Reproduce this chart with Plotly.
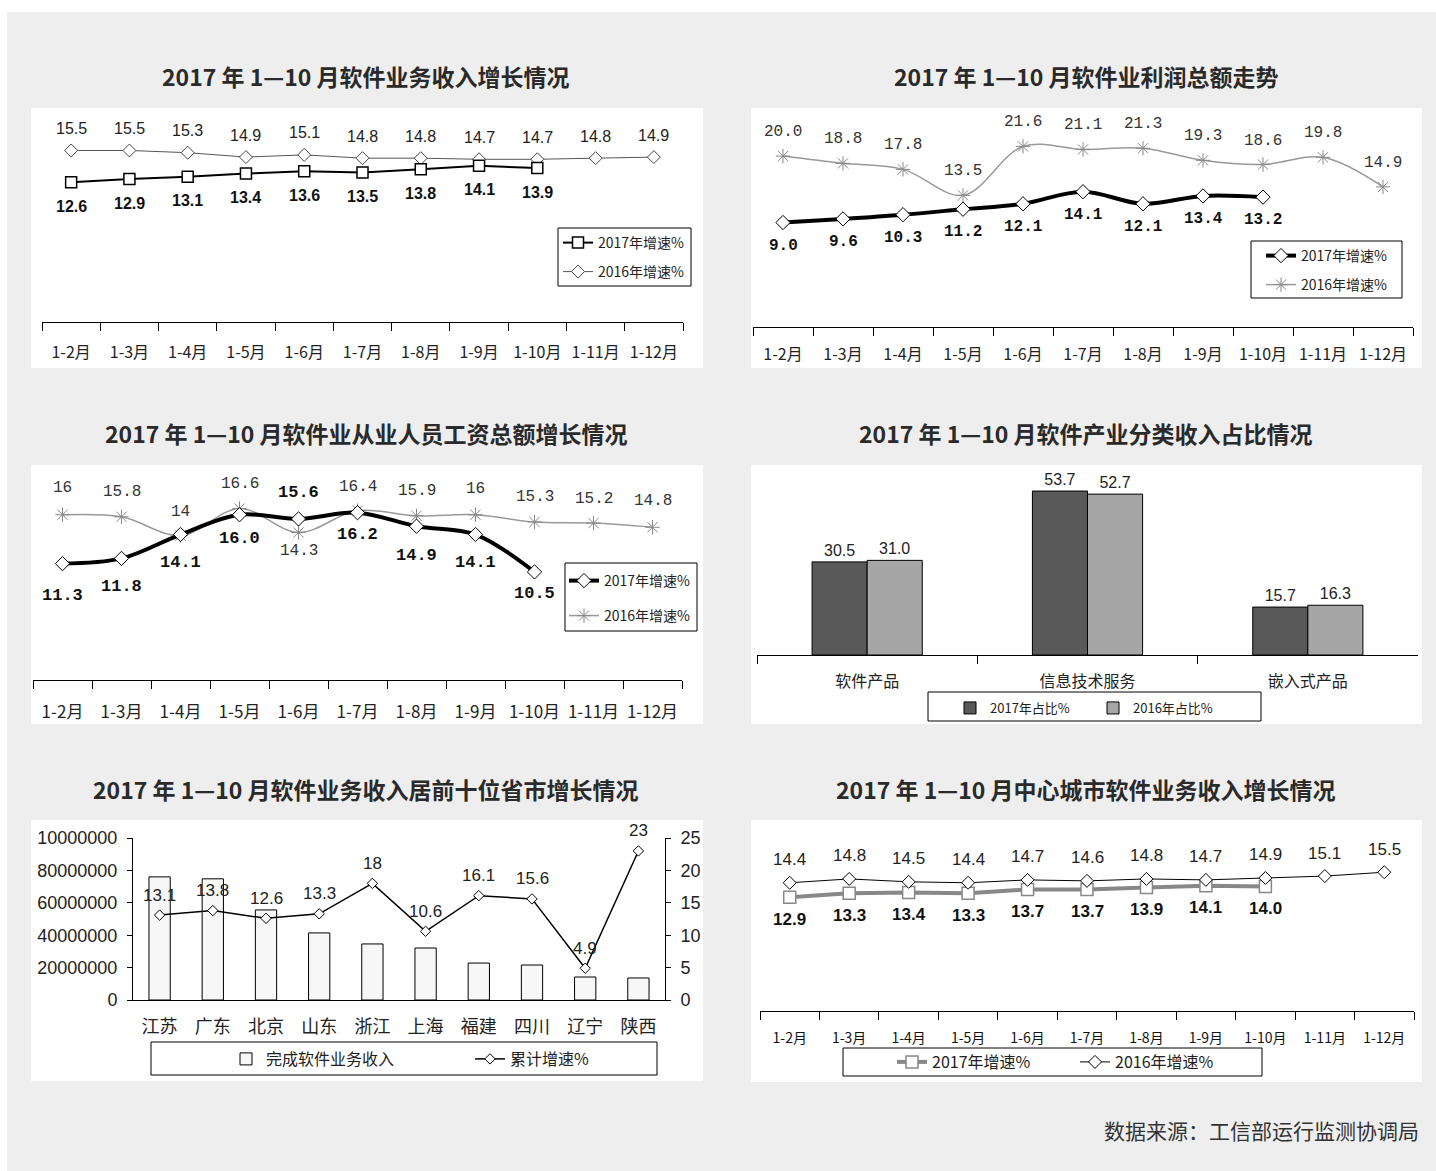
import plotly.graph_objects as go

W, H = 1436, 1171

# ---------------- data ----------------
months = ["1-2月", "1-3月", "1-4月", "1-5月", "1-6月", "1-7月", "1-8月", "1-9月", "1-10月", "1-11月", "1-12月"]

rev_2017 = [12.6, 12.9, 13.1, 13.4, 13.6, 13.5, 13.8, 14.1, 13.9]
rev_2016 = [15.5, 15.5, 15.3, 14.9, 15.1, 14.8, 14.8, 14.7, 14.7, 14.8, 14.9]

profit_2017 = [9.0, 9.6, 10.3, 11.2, 12.1, 14.1, 12.1, 13.4, 13.2]
profit_2016 = [20.0, 18.8, 17.8, 13.5, 21.6, 21.1, 21.3, 19.3, 18.6, 19.8, 14.9]

wage_2017 = [11.3, 11.8, 14.1, 16.0, 15.6, 16.2, 14.9, 14.1, 10.5]
wage_2016 = [16, 15.8, 14, 16.6, 14.3, 16.4, 15.9, 16, 15.3, 15.2, 14.8]

share_cats = ["软件产品", "信息技术服务", "嵌入式产品"]
share_2017 = [30.5, 53.7, 15.7]
share_2016 = [31.0, 52.7, 16.3]

provinces = ["江苏", "广东", "北京", "山东", "浙江", "上海", "福建", "四川", "辽宁", "陕西"]
prov_revenue = [76000000, 74800000, 55600000, 41400000, 34600000, 32100000, 22800000, 21600000, 14200000, 13600000]
prov_growth = [13.1, 13.8, 12.6, 13.3, 18, 10.6, 16.1, 15.6, 4.9, 23]
left_ticks = [0, 20000000, 40000000, 60000000, 80000000, 100000000]
left_ticktext = ["0", "20000000", "40000000", "60000000", "80000000", "10000000"]
right_ticks = [0, 5, 10, 15, 20, 25]

city_2017 = [12.9, 13.3, 13.4, 13.3, 13.7, 13.7, 13.9, 14.1, 14.0]
city_2016 = [14.4, 14.8, 14.5, 14.4, 14.7, 14.6, 14.8, 14.7, 14.9, 15.1, 15.5]

titles = [
    "2017 年 1—10 月软件业务收入增长情况",
    "2017 年 1—10 月软件业利润总额走势",
    "2017 年 1—10 月软件业从业人员工资总额增长情况",
    "2017 年 1—10 月软件产业分类收入占比情况",
    "2017 年 1—10 月软件业务收入居前十位省市增长情况",
    "2017 年 1—10 月中心城市软件业务收入增长情况",
]
source_text = "数据来源：工信部运行监测协调局"

# ---------------- helpers ----------------
def px(x):
    return x / W

def py(y):
    return 1 - y / H

CJK = "Noto Sans CJK SC"
ARIAL = "Liberation Sans, Arial"
MONO = "Liberation Mono"

fig = go.Figure()
shapes = []
annotations = []

# background
shapes.append(dict(type="rect", xref="paper", yref="paper", x0=px(7), x1=px(1436), y0=py(1171), y1=py(12),
                   fillcolor="#eeeeee", line=dict(width=0), layer="below"))
panels = [(31, 703, 108, 368), (751, 1422, 108, 368), (31, 703, 465, 724),
          (751, 1422, 465, 724), (31, 703, 820, 1081), (751, 1422, 820, 1082)]
for (a, b, c, d) in panels:
    shapes.append(dict(type="rect", xref="paper", yref="paper", x0=px(a), x1=px(b), y0=py(d), y1=py(c),
                       fillcolor="white", line=dict(width=0), layer="below"))

# titles
title_pos = [(366, 76), (1086, 76), (366, 433), (1086, 433), (366, 789), (1086, 789)]
for t, (x, y) in zip(titles, title_pos):
    annotations.append(dict(text="<b>" + t + "</b>", x=px(x), y=py(y), xref="paper", yref="paper",
                            showarrow=False, font=dict(family=CJK, size=23, color="#2a2a2a"),
                            xanchor="center", yanchor="middle"))
annotations.append(dict(text=source_text, x=px(1421), y=py(1130), xref="paper", yref="paper",
                        showarrow=False, font=dict(family=CJK, size=21, color="#333333"),
                        xanchor="right", yanchor="middle"))

layout_axes = {}

def cat_xaxis(name, x0, x1, anchor, tickfont, standoff, ticks=True):
    layout_axes[name] = dict(domain=[px(x0), px(x1)], anchor=anchor, type="category",
                             showline=True, linecolor="black", linewidth=1,
                             ticks="outside" if ticks else "", tickson="boundaries", ticklen=8,
                             tickcolor="black", tickwidth=1, showgrid=False, zeroline=False,
                             tickfont=tickfont, ticklabelstandoff=standoff, tickangle=0,
                             automargin=False, fixedrange=True)

def hidden_yaxis(name, y_top, y_bot, rng, anchor):
    layout_axes[name] = dict(domain=[py(y_bot), py(y_top)], range=rng, visible=False,
                             anchor=anchor, automargin=False, fixedrange=True)

def add_labels_fmt(xs, ys, offsets, xref, yref, font, fmt="{:.1f}"):
    for x, y, o in zip(xs, ys, offsets):
        annotations.append(dict(text=fmt.format(y), x=x, y=y, xref=xref, yref=yref, yshift=o,
                                showarrow=False, font=font, xanchor="center", yanchor="middle"))

legends = {}
legend_count = [0]

def new_legend(x, y, size):
    legend_count[0] += 1
    key = "legend" if legend_count[0] == 1 else f"legend{legend_count[0]}"
    legends[key] = dict(x=px(x), y=py(y), xanchor="left", yanchor="middle", bgcolor="rgba(0,0,0,0)",
                        borderwidth=0, font=dict(family=CJK, size=size, color="#222"), itemwidth=30,
                        orientation="v")
    return key

def box(x0, x1, y0, y1):
    shapes.append(dict(type="rect", xref="paper", yref="paper", x0=px(x0), x1=px(x1), y0=py(y1), y1=py(y0),
                       line=dict(color="black", width=1), fillcolor="rgba(0,0,0,0)"))

# ---------------- Panel 1 ----------------
cat_xaxis("xaxis", 42, 683, "y", dict(family=CJK, size=16, color="#222"), 16)
hidden_yaxis("yaxis", 112, 322, [-0.1, 19.0], "x")
m17 = months[:len(rev_2017)]
fig.add_trace(go.Scatter(x=months, y=rev_2016, mode="lines+markers", name="2016年增速%",
                         line=dict(color="#555555", width=1),
                         marker=dict(symbol="diamond", size=10, color="white", line=dict(color="#444", width=1)),
                         xaxis="x", yaxis="y", legend=new_legend(558, 272, 14)))
fig.add_trace(go.Scatter(x=m17, y=rev_2017, mode="lines+markers", name="2017年增速%",
                         line=dict(color="black", width=2),
                         marker=dict(symbol="square", size=11, color="white", line=dict(color="black", width=1.5)),
                         xaxis="x", yaxis="y", legend=new_legend(558, 243, 14)))
box(558, 691, 228, 286)
add_labels_fmt(months, rev_2016, [22] * 11, "x", "y", dict(family=ARIAL, size=16, color="#222"))
add_labels_fmt(m17, rev_2017, [-24] * 9, "x", "y", dict(family=ARIAL, size=16, color="#111"), "<b>{:.1f}</b>")

# ---------------- Panel 2 ----------------
cat_xaxis("xaxis2", 753, 1413, "y2", dict(family=CJK, size=16, color="#222"), 13)
hidden_yaxis("yaxis2", 112, 327, [-8.3, 27.3], "x2")
fig.add_trace(go.Scatter(x=months, y=profit_2016, mode="lines+markers", name="2016年增速%",
                         line=dict(color="#999999", width=1.5, shape="spline"),
                         marker=dict(symbol="asterisk-open", size=12, color="#888", line=dict(color="#888", width=1)),
                         xaxis="x2", yaxis="y2", legend=new_legend(1261, 285, 14)))
fig.add_trace(go.Scatter(x=m17, y=profit_2017, mode="lines+markers", name="2017年增速%",
                         line=dict(color="black", width=4, shape="spline"),
                         marker=dict(symbol="diamond", size=11, color="white", line=dict(color="black", width=1)),
                         xaxis="x2", yaxis="y2", legend=new_legend(1261, 256, 14)))
box(1251, 1402, 241, 298)
add_labels_fmt(months, profit_2016, [24] * 11, "x2", "y2", dict(family=MONO, size=16, color="#333"))
add_labels_fmt(m17, profit_2017, [-23] * 9, "x2", "y2", dict(family=MONO, size=16, color="#111"), "<b>{:.1f}</b>")

# ---------------- Panel 3 ----------------
cat_xaxis("xaxis3", 33, 682, "y3", dict(family=CJK, size=17, color="#222"), 17)
hidden_yaxis("yaxis3", 468, 680, [0.1, 20.5], "x3")
fig.add_trace(go.Scatter(x=months, y=wage_2016, mode="lines+markers", name="2016年增速%",
                         line=dict(color="#999999", width=1.5, shape="spline"),
                         marker=dict(symbol="asterisk-open", size=12, color="#888", line=dict(color="#888", width=1)),
                         xaxis="x3", yaxis="y3", legend=new_legend(564, 616, 14)))
fig.add_trace(go.Scatter(x=m17, y=wage_2017, mode="lines+markers", name="2017年增速%",
                         line=dict(color="black", width=4, shape="spline"),
                         marker=dict(symbol="diamond", size=11, color="white", line=dict(color="black", width=1)),
                         xaxis="x3", yaxis="y3", legend=new_legend(564, 581, 14)))
box(565, 697, 563, 631)
wage16_off = [27, 25, 24, 25, -19, 24, 25, 26, 25, 24, 26]
wage17_off = [-32, -28, -28, -24, 26, -22, -29, -28, -22]
for x, y, o in zip(months, wage_2016, wage16_off):
    annotations.append(dict(text=f"{y:g}", x=x, y=y, xref="x3", yref="y3", yshift=o, showarrow=False,
                            font=dict(family=MONO, size=16, color="#333")))
for x, y, o in zip(m17, wage_2017, wage17_off):
    annotations.append(dict(text=f"<b>{y:.1f}</b>", x=x, y=y, xref="x3", yref="y3", yshift=o, showarrow=False,
                            font=dict(family=MONO, size=17, color="#111")))

# ---------------- Panel 4 ----------------
cat_xaxis("xaxis4", 757, 1418, "y4", dict(family=CJK, size=16, color="#222"), 12)
hidden_yaxis("yaxis4", 470, 655, [0, 60.6], "x4")
fig.add_trace(go.Bar(x=share_cats, y=share_2017, name="2017年占比%", width=0.25, offset=-0.25,
                     marker=dict(color="#595959", line=dict(color="black", width=1)),
                     text=[f"{v:.1f}" for v in share_2017], textposition="outside", cliponaxis=False,
                     textfont=dict(family=ARIAL, size=16, color="#222"),
                     xaxis="x4", yaxis="y4", legend=new_legend(950, 708, 13)))
fig.add_trace(go.Bar(x=share_cats, y=share_2016, name="2016年占比%", width=0.25, offset=0,
                     marker=dict(color="#a6a6a6", line=dict(color="black", width=1)),
                     text=[f"{v:.1f}" for v in share_2016], textposition="outside", cliponaxis=False,
                     textfont=dict(family=ARIAL, size=16, color="#222"),
                     xaxis="x4", yaxis="y4", legend=new_legend(1093, 708, 13)))
box(928, 1261, 692, 721)

# ---------------- Panel 5 ----------------
cat_xaxis("xaxis5", 133, 665, "y5", dict(family=CJK, size=18, color="#222"), 10, ticks=False)
layout_axes["yaxis5"] = dict(domain=[py(1000), py(838)], range=[0, 100000000], anchor="x5",
                             tickvals=left_ticks, ticktext=left_ticktext, showline=True, linecolor="black",
                             ticks="outside", ticklen=5, tickcolor="black", showgrid=False, zeroline=False,
                             tickfont=dict(family=ARIAL, size=18, color="#222"), ticklabelstandoff=6,
                             automargin=False, fixedrange=True)
layout_axes["yaxis7"] = dict(overlaying="y5", side="right", range=[0, 25], anchor="x5",
                             tickvals=right_ticks, showline=True, linecolor="black",
                             ticks="outside", ticklen=5, tickcolor="black", showgrid=False, zeroline=False,
                             tickfont=dict(family=ARIAL, size=18, color="#222"), ticklabelstandoff=6,
                             automargin=False, fixedrange=True)
fig.add_trace(go.Bar(x=provinces, y=prov_revenue, name="完成软件业务收入", width=0.4,
                     marker=dict(color="#f7f7f7", line=dict(color="black", width=1)),
                     xaxis="x5", yaxis="y5", legend=new_legend(226, 1059, 16)))
fig.add_trace(go.Scatter(x=provinces, y=prov_growth, mode="lines+markers", name="累计增速%",
                         line=dict(color="black", width=1.5),
                         marker=dict(symbol="diamond", size=8, color="white", line=dict(color="black", width=1)),
                         xaxis="x5", yaxis="y7", legend=new_legend(470, 1059, 16)))
box(151, 657, 1042, 1075)
for x, y in zip(provinces, prov_growth):
    annotations.append(dict(text=f"{y:g}", x=x, y=y, xref="x5", yref="y7", yshift=20, showarrow=False,
                            font=dict(family=ARIAL, size=17, color="#222")))

# ---------------- Panel 6 ----------------
cat_xaxis("xaxis6", 760, 1414, "y6", dict(family=CJK, size=14, color="#111"), 14)
hidden_yaxis("yaxis6", 830, 1011, [1.04, 19.9], "x6")
fig.add_trace(go.Scatter(x=m17, y=city_2017, mode="lines+markers", name="2017年增速%",
                         line=dict(color="#888888", width=4),
                         marker=dict(symbol="square", size=12, color="white", line=dict(color="#888", width=1.5)),
                         xaxis="x6", yaxis="y6", legend=new_legend(892, 1062, 16)))
fig.add_trace(go.Scatter(x=months, y=city_2016, mode="lines+markers", name="2016年增速%",
                         line=dict(color="black", width=1),
                         marker=dict(symbol="diamond", size=10, color="white", line=dict(color="black", width=1)),
                         xaxis="x6", yaxis="y6", legend=new_legend(1075, 1062, 16)))
box(843, 1262, 1048, 1076)
add_labels_fmt(months, city_2016, [23] * 11, "x6", "y6", dict(family=ARIAL, size=17, color="#222"))
add_labels_fmt(m17, city_2017, [-22] * 9, "x6", "y6", dict(family=ARIAL, size=17, color="#111"), "<b>{:.1f}</b>")

for k in ["xaxis", "xaxis2", "xaxis3", "xaxis6"]:
    layout_axes[k]["range"] = [-0.5, 10.5]
layout_axes["xaxis4"]["range"] = [-0.5, 2.5]
layout_axes["xaxis5"]["range"] = [-0.5, 9.5]

fig.update_layout(template="none", width=W, height=H, autosize=False,
                  margin=dict(l=0, r=0, t=0, b=0, pad=0, autoexpand=False),
                  paper_bgcolor="white", plot_bgcolor="rgba(0,0,0,0)", shapes=shapes, annotations=annotations,
                  showlegend=True, barmode="overlay", **layout_axes, **legends)

post = ("document.documentElement.style.margin='0';document.body.style.margin='0';"
        "document.body.style.padding='0';document.body.style.overflow='hidden';"
        "document.documentElement.style.overflow='hidden';"
        "var gd=document.getElementById('{plot_id}');gd.style.position='fixed';"
        "gd.style.top='0px';gd.style.left='0px';")

fig.write_html("out.html", config={"displayModeBar": False}, post_script=post)
